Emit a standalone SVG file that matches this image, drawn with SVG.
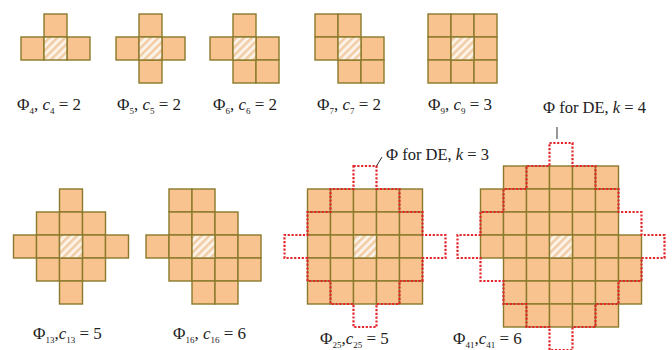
<svg xmlns="http://www.w3.org/2000/svg" width="672" height="350" viewBox="0 0 672 350" font-family="'Liberation Serif', 'DejaVu Serif', serif">
<defs>
<pattern id="hatch" patternUnits="userSpaceOnUse" width="5.5" height="5.5" patternTransform="rotate(45)">
<rect width="5.5" height="5.5" fill="#FBF2E8"/>
<rect width="2.4" height="5.5" fill="#F2CBA3"/>
</pattern>
</defs>
<style>
.c{fill:#F9C38F;stroke:#8A7A2C;stroke-width:1.4}
.h{fill:url(#hatch);stroke:#8A7A2C;stroke-width:1.4}
.de{fill:none;stroke:#E3262B;stroke-width:2.2;stroke-dasharray:2.2 1.6}
.ld{fill:none;stroke:#333;stroke-width:1}
text{font-family:'Liberation Serif','DejaVu Serif',serif;font-size:17px;fill:#222}
.s{font-size:9px}
.i{font-style:italic}
.lab{font-size:16.5px}
</style>
<rect width="672" height="350" fill="#fff"/>

<g id="phi4">
<rect class="c" x="44" y="14" width="23" height="23"/>
<rect class="c" x="21" y="37" width="23" height="23"/>
<rect class="c" x="67" y="37" width="23" height="23"/>
<rect class="h" x="44" y="37" width="23" height="23"/>
<text x="17" y="110">Φ<tspan class="s" dy="4">4</tspan><tspan dy="-4">, </tspan><tspan class="i">c</tspan><tspan class="s" dy="4">4</tspan><tspan dy="-4"> = 2</tspan></text>
</g>

<g id="phi5">
<rect class="c" x="139" y="14" width="23" height="23"/>
<rect class="c" x="116" y="37" width="23" height="23"/>
<rect class="c" x="162" y="37" width="23" height="23"/>
<rect class="c" x="139" y="60" width="23" height="23"/>
<rect class="h" x="139" y="37" width="23" height="23"/>
<text x="117" y="110">Φ<tspan class="s" dy="4">5</tspan><tspan dy="-4">, </tspan><tspan class="i">c</tspan><tspan class="s" dy="4">5</tspan><tspan dy="-4"> = 2</tspan></text>
</g>

<g id="phi6">
<rect class="c" x="233" y="14" width="23" height="23"/>
<rect class="c" x="210" y="37" width="23" height="23"/>
<rect class="c" x="256" y="37" width="23" height="23"/>
<rect class="c" x="233" y="60" width="23" height="23"/>
<rect class="c" x="256" y="60" width="23" height="23"/>
<rect class="h" x="233" y="37" width="23" height="23"/>
<text x="213" y="110">Φ<tspan class="s" dy="4">6</tspan><tspan dy="-4">, </tspan><tspan class="i">c</tspan><tspan class="s" dy="4">6</tspan><tspan dy="-4"> = 2</tspan></text>
</g>

<g id="phi7">
<rect class="c" x="315" y="14" width="23" height="23"/>
<rect class="c" x="338" y="14" width="23" height="23"/>
<rect class="c" x="315" y="37" width="23" height="23"/>
<rect class="c" x="361" y="37" width="23" height="23"/>
<rect class="c" x="338" y="60" width="23" height="23"/>
<rect class="c" x="361" y="60" width="23" height="23"/>
<rect class="h" x="338" y="37" width="23" height="23"/>
<text x="317" y="110">Φ<tspan class="s" dy="4">7</tspan><tspan dy="-4">, </tspan><tspan class="i">c</tspan><tspan class="s" dy="4">7</tspan><tspan dy="-4"> = 2</tspan></text>
</g>

<g id="phi9">
<rect class="c" x="428" y="14" width="23" height="23"/>
<rect class="c" x="451" y="14" width="23" height="23"/>
<rect class="c" x="474" y="14" width="23" height="23"/>
<rect class="c" x="428" y="37" width="23" height="23"/>
<rect class="c" x="474" y="37" width="23" height="23"/>
<rect class="c" x="428" y="60" width="23" height="23"/>
<rect class="c" x="451" y="60" width="23" height="23"/>
<rect class="c" x="474" y="60" width="23" height="23"/>
<rect class="h" x="451" y="37" width="23" height="23"/>
<text x="428" y="110">Φ<tspan class="s" dy="4">9</tspan><tspan dy="-4">, </tspan><tspan class="i">c</tspan><tspan class="s" dy="4">9</tspan><tspan dy="-4"> = 3</tspan></text>
</g>

<g id="phi13">
<rect class="c" x="59.5" y="189" width="23" height="23"/>
<rect class="c" x="36.5" y="212" width="23" height="23"/>
<rect class="c" x="59.5" y="212" width="23" height="23"/>
<rect class="c" x="82.5" y="212" width="23" height="23"/>
<rect class="c" x="13.5" y="235" width="23" height="23"/>
<rect class="c" x="36.5" y="235" width="23" height="23"/>
<rect class="c" x="82.5" y="235" width="23" height="23"/>
<rect class="c" x="105.5" y="235" width="23" height="23"/>
<rect class="c" x="36.5" y="258" width="23" height="23"/>
<rect class="c" x="59.5" y="258" width="23" height="23"/>
<rect class="c" x="82.5" y="258" width="23" height="23"/>
<rect class="c" x="59.5" y="281" width="23" height="23"/>
<rect class="h" x="59.5" y="235" width="23" height="23"/>
<text x="33" y="339">Φ<tspan class="s" dy="4">13</tspan><tspan dy="-4">,</tspan><tspan class="i">c</tspan><tspan class="s" dy="4">13</tspan><tspan dy="-4"> = 5</tspan></text>
</g>

<g id="phi16">
<rect class="c" x="169" y="189" width="23" height="23"/>
<rect class="c" x="192" y="189" width="23" height="23"/>
<rect class="c" x="169" y="212" width="23" height="23"/>
<rect class="c" x="192" y="212" width="23" height="23"/>
<rect class="c" x="215" y="212" width="23" height="23"/>
<rect class="c" x="146" y="235" width="23" height="23"/>
<rect class="c" x="169" y="235" width="23" height="23"/>
<rect class="c" x="215" y="235" width="23" height="23"/>
<rect class="c" x="238" y="235" width="23" height="23"/>
<rect class="c" x="169" y="258" width="23" height="23"/>
<rect class="c" x="192" y="258" width="23" height="23"/>
<rect class="c" x="215" y="258" width="23" height="23"/>
<rect class="c" x="238" y="258" width="23" height="23"/>
<rect class="c" x="192" y="281" width="23" height="23"/>
<rect class="c" x="215" y="281" width="23" height="23"/>
<rect class="h" x="192" y="235" width="23" height="23"/>
<text x="173" y="339">Φ<tspan class="s" dy="4">16</tspan><tspan dy="-4">, </tspan><tspan class="i">c</tspan><tspan class="s" dy="4">16</tspan><tspan dy="-4"> = 6</tspan></text>
</g>

<g id="phi25">
<rect class="c" x="307.5" y="189" width="23" height="23"/>
<rect class="c" x="330.5" y="189" width="23" height="23"/>
<rect class="c" x="353.5" y="189" width="23" height="23"/>
<rect class="c" x="376.5" y="189" width="23" height="23"/>
<rect class="c" x="399.5" y="189" width="23" height="23"/>
<rect class="c" x="307.5" y="212" width="23" height="23"/>
<rect class="c" x="330.5" y="212" width="23" height="23"/>
<rect class="c" x="353.5" y="212" width="23" height="23"/>
<rect class="c" x="376.5" y="212" width="23" height="23"/>
<rect class="c" x="399.5" y="212" width="23" height="23"/>
<rect class="c" x="307.5" y="235" width="23" height="23"/>
<rect class="c" x="330.5" y="235" width="23" height="23"/>
<rect class="c" x="376.5" y="235" width="23" height="23"/>
<rect class="c" x="399.5" y="235" width="23" height="23"/>
<rect class="c" x="307.5" y="258" width="23" height="23"/>
<rect class="c" x="330.5" y="258" width="23" height="23"/>
<rect class="c" x="353.5" y="258" width="23" height="23"/>
<rect class="c" x="376.5" y="258" width="23" height="23"/>
<rect class="c" x="399.5" y="258" width="23" height="23"/>
<rect class="c" x="307.5" y="281" width="23" height="23"/>
<rect class="c" x="330.5" y="281" width="23" height="23"/>
<rect class="c" x="353.5" y="281" width="23" height="23"/>
<rect class="c" x="376.5" y="281" width="23" height="23"/>
<rect class="c" x="399.5" y="281" width="23" height="23"/>
<rect class="h" x="353.5" y="235" width="23" height="23"/>
<text x="320" y="344">Φ<tspan class="s" dy="4">25</tspan><tspan dy="-4">,</tspan><tspan class="i">c</tspan><tspan class="s" dy="4">25</tspan><tspan dy="-4"> = 5</tspan></text>
</g>

<g id="de-k3">
<path class="de" d="M353.5,166 H376.5 V189 H399.5 V212 H422.5 V235 H445.5 V258 H422.5 V281 H399.5 V304 H376.5 V327 H353.5 V304 H330.5 V281 H307.5 V258 H284.5 V235 H307.5 V212 H330.5 V189 H353.5 Z"/>
<text class="lab" x="386" y="160">Φ for DE, <tspan class="i">k</tspan> = 3</text>
</g>

<g id="phi41">
<rect class="c" x="503.5" y="166" width="23" height="23"/>
<rect class="c" x="526.5" y="166" width="23" height="23"/>
<rect class="c" x="549.5" y="166" width="23" height="23"/>
<rect class="c" x="572.5" y="166" width="23" height="23"/>
<rect class="c" x="595.5" y="166" width="23" height="23"/>
<rect class="c" x="480.5" y="189" width="23" height="23"/>
<rect class="c" x="503.5" y="189" width="23" height="23"/>
<rect class="c" x="526.5" y="189" width="23" height="23"/>
<rect class="c" x="549.5" y="189" width="23" height="23"/>
<rect class="c" x="572.5" y="189" width="23" height="23"/>
<rect class="c" x="595.5" y="189" width="23" height="23"/>
<rect class="c" x="480.5" y="212" width="23" height="23"/>
<rect class="c" x="503.5" y="212" width="23" height="23"/>
<rect class="c" x="526.5" y="212" width="23" height="23"/>
<rect class="c" x="549.5" y="212" width="23" height="23"/>
<rect class="c" x="572.5" y="212" width="23" height="23"/>
<rect class="c" x="595.5" y="212" width="23" height="23"/>
<rect class="c" x="480.5" y="235" width="23" height="23"/>
<rect class="c" x="503.5" y="235" width="23" height="23"/>
<rect class="c" x="526.5" y="235" width="23" height="23"/>
<rect class="c" x="572.5" y="235" width="23" height="23"/>
<rect class="c" x="595.5" y="235" width="23" height="23"/>
<rect class="c" x="618.5" y="235" width="23" height="23"/>
<rect class="c" x="503.5" y="258" width="23" height="23"/>
<rect class="c" x="526.5" y="258" width="23" height="23"/>
<rect class="c" x="549.5" y="258" width="23" height="23"/>
<rect class="c" x="572.5" y="258" width="23" height="23"/>
<rect class="c" x="595.5" y="258" width="23" height="23"/>
<rect class="c" x="618.5" y="258" width="23" height="23"/>
<rect class="c" x="503.5" y="281" width="23" height="23"/>
<rect class="c" x="526.5" y="281" width="23" height="23"/>
<rect class="c" x="549.5" y="281" width="23" height="23"/>
<rect class="c" x="572.5" y="281" width="23" height="23"/>
<rect class="c" x="595.5" y="281" width="23" height="23"/>
<rect class="c" x="618.5" y="281" width="23" height="23"/>
<rect class="c" x="503.5" y="304" width="23" height="23"/>
<rect class="c" x="526.5" y="304" width="23" height="23"/>
<rect class="c" x="549.5" y="304" width="23" height="23"/>
<rect class="c" x="572.5" y="304" width="23" height="23"/>
<rect class="c" x="595.5" y="304" width="23" height="23"/>
<rect class="h" x="549.5" y="235" width="23" height="23"/>
<text x="453" y="344">Φ<tspan class="s" dy="4">41</tspan><tspan dy="-4">,</tspan><tspan class="i">c</tspan><tspan class="s" dy="4">41</tspan><tspan dy="-4"> = 6</tspan></text>
</g>

<g id="de-k4">
<path class="de" d="M549.5,143 H572.5 V166 H595.5 V189 H618.5 V212 H641.5 V235 H664.5 V258 H641.5 V281 H618.5 V304 H595.5 V327 H572.5 V350 H549.5 V327 H526.5 V304 H503.5 V281 H480.5 V258 H457.5 V235 H480.5 V212 H503.5 V189 H526.5 V166 H549.5 Z"/>
<text class="lab" x="543" y="113">Φ for DE, <tspan class="i">k</tspan> = 4</text>
</g>

<g id="connectors">
<path class="ld" d="M376.5,166 L382,157"/>
<path class="ld" d="M557,127 V139"/>
</g>
</svg>
